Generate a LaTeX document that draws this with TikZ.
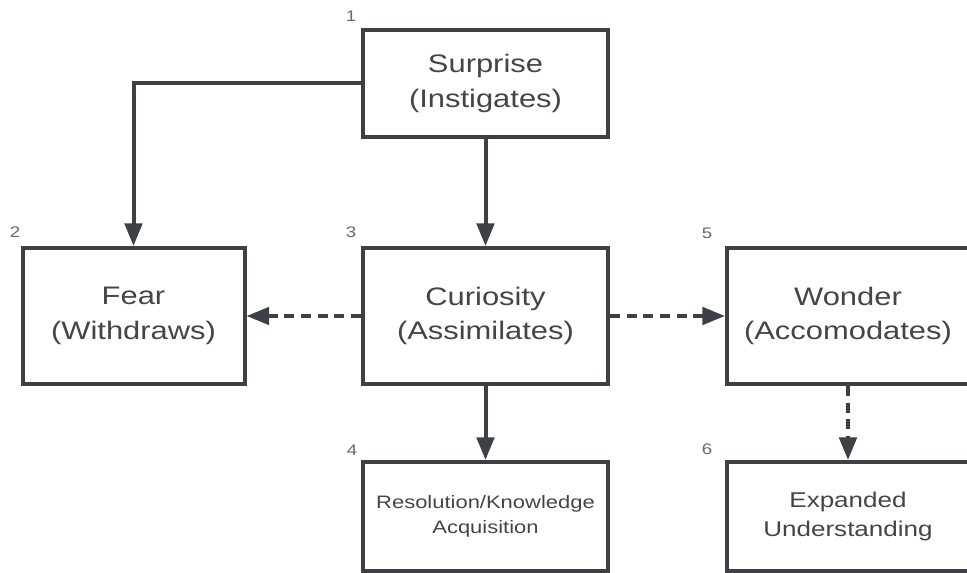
\documentclass[tikz,border=0pt]{standalone}
\usepackage{fontspec}
\setmainfont{Liberation Sans}[FakeStretch=1.22]
\usetikzlibrary{arrows.meta,shadows}
\definecolor{edge}{HTML}{3D4045}
\definecolor{txt}{HTML}{454545}

\begin{document}
\begin{tikzpicture}[x=0.75pt,y=-0.75pt,
  box/.style={draw=edge,line width=3pt,fill=white,text=txt,align=center,inner sep=0pt,
    font=\fontsize{19}{26}\selectfont,
    drop shadow={opacity=0.12,shadow xshift=1pt,shadow yshift=-1.5pt}},
  small/.style={font=\fontsize{13.5}{19}\selectfont},
  mid/.style={font=\fontsize{16}{21.5}\selectfont},
  num/.style={text=txt!80,font=\fontsize{11.5}{13}\selectfont,inner sep=0pt},
  arr/.style={draw=edge,line width=3pt,-{Triangle[length=17pt,width=13pt]}},
  darr/.style={arr,dash pattern=on 7.5pt off 5pt}]
\useasboundingbox (0,0) rectangle (967,573);
\clip (0,0) rectangle (967,573);
\fill[white] (0,0) rectangle (967,573);

\node[box,minimum width=183.75pt,minimum height=80.25pt] (sur) at (485.5,83.5) {Surprise\\(Instigates)};
\node[box,minimum width=166.5pt,minimum height=102pt] (fear) at (133.5,316) {Fear\\(Withdraws)};
\node[box,minimum width=183.75pt,minimum height=102pt] (cur) at (485.5,316) {Curiosity\\(Assimilates)};
\node[box,minimum width=181.5pt,minimum height=102pt] (won) at (848,316) {Wonder\\(Accomodates)};
\node[box,small,minimum width=183.75pt,minimum height=81.75pt] (res) at (485.5,516.5) {Resolution/Knowledge\\Acquisition};
\node[box,mid,minimum width=181.5pt,minimum height=81.75pt] (exp) at (848,516.5) {Expanded\\Understanding};

\node[num] (n1) at (351,16) {1};
\node[num] (n2) at (15,232) {2};
\node[num] (n3) at (351,232) {3};
\node[num] (n4) at (352,450) {4};
\node[num] (n5) at (707,233) {5};
\node[num] (n6) at (707,449) {6};

\draw[arr] (node cs:name=sur,anchor=west) -| (node cs:name=fear,anchor=north);
\draw[arr] (node cs:name=sur) -- (node cs:name=cur);
\draw[arr] (node cs:name=cur) -- (node cs:name=res);
\draw[darr] (node cs:name=cur) -- (node cs:name=fear);
\draw[darr] (node cs:name=cur) -- (node cs:name=won);
\draw[darr] (node cs:name=won) -- (node cs:name=exp);
\end{tikzpicture}
\end{document}
